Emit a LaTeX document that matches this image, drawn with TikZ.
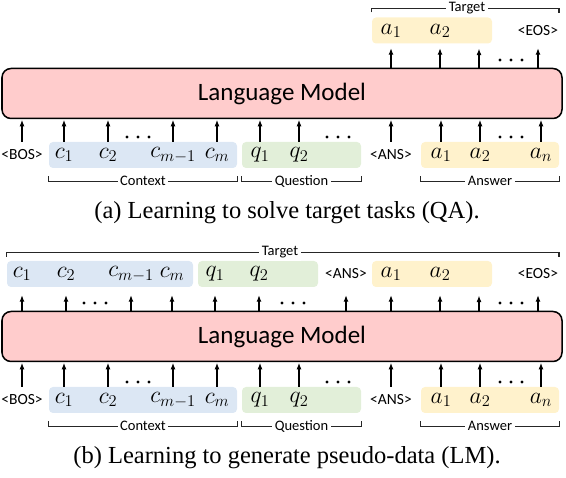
\documentclass[tikz,border=0pt]{standalone}
\usepackage{fix-cm}
\usepackage{fontspec}
\setmainfont{Liberation Serif}
\newfontfamily\calfont{Carlito}
\usetikzlibrary{arrows.meta,calc}
\definecolor{lmpink}{HTML}{FFCCCC}
\definecolor{ctxblue}{HTML}{DCE7F4}
\definecolor{qgreen}{HTML}{E2EFD9}
\definecolor{ansyellow}{HTML}{FFF2CC}

\begin{document}
\begin{tikzpicture}[
  x=1pt, y=-1pt,
  lm/.style={draw=black, line width=1.5pt, fill=lmpink, rounded corners=9pt,
    minimum width=560, minimum height=50, font=\calfont\fontsize{25}{25}\selectfont},
  seg/.style={rounded corners=4pt, minimum height=26, inner sep=0pt},
  tok/.style={inner sep=0pt, minimum height=26, font=\fontsize{23.5}{23.5}\selectfont},
  spec/.style={tok, font=\calfont\fontsize{15.5}{15.5}\selectfont},
  lbl/.style={fill=white, inner sep=2.5pt, font=\calfont\fontsize{14.5}{14.5}\selectfont},
  brk/.style={line width=1.2pt, black!85},
  flow/.style={-{Latex[length=6.5pt,width=5pt]}, line width=1.2pt, shorten >=0.6pt},
  captxt/.style={font=\fontsize{24.5}{24.5}\selectfont},
  ellip/.pic={\foreach \d in {-11,0,11} \fill (\d,0) circle[radius=1.7pt];},
  ]
  \useasboundingbox (0,0) rectangle (566,478);

  % (a) target tasks
  \node[lm] (lmA) at (282,93.5) {Language Model};

  \node[seg, fill=ctxblue, minimum width=188] (ctxA) at (143,155) {};
  \node[seg, fill=qgreen, minimum width=119] (qA) at (301.5,155) {};
  \node[seg, fill=ansyellow, minimum width=138] (ansA) at (490,155) {};

  \node[spec] (bosA) at (22,155) {<BOS>};
  \node[tok] (c1A) at (64,155) {$c_1$};
  \node[tok] (c2A) at (108,155) {$c_2$};
  \node[tok] (cmoA) at (173,155) {$c_{m-1}$};
  \node[tok] (cmA) at (217,155) {$c_m$};
  \node[tok] (q1A) at (260,155) {$q_1$};
  \node[tok] (q2A) at (299,155) {$q_2$};
  \node[spec] (sepA) at (391,155) {<ANS>};
  \node[tok] (a1A) at (441,155) {$a_1$};
  \node[tok] (a2A) at (480,155) {$a_2$};
  \node[tok] (anA) at (541,155) {$a_n$};
  \foreach \n in {bosA,c1A,c2A,cmoA,cmA,q1A,q2A,sepA,a1A,a2A,anA}
    \draw[flow] (\n.north) -- (\n.north |- lmA.south);
  \pic at (138,137) {ellip};
  \pic at (338,137) {ellip};
  \pic at (511,137) {ellip};

  % brackets under the input
  \draw[brk] ($(ctxA.south west)+(0,8)$) -- ++(0,5) -| ($(ctxA.south east)+(0,8)$);
  \node[lbl] (ctxlblA) at ($(ctxA.south)+(0,13)$) {Context};
  \draw[brk] ($(qA.south west)+(0,8)$) -- ++(0,5) -| ($(qA.south east)+(0,8)$);
  \node[lbl] (qlblA) at ($(qA.south)+(0,13)$) {Question};
  \draw[brk] ($(ansA.south west)+(0,8)$) -- ++(0,5) -| ($(ansA.south east)+(0,8)$);
  \node[lbl] (anslblA) at ($(ansA.south)+(0,13)$) {Answer};

  % output
  \node[seg, fill=ansyellow, minimum width=120] (tgtA) at (432,30.5) {};
  \node[tok] (o1A) at (391,31) {$a_1$};
  \node[tok] (o2A) at (440,31) {$a_2$};
  \coordinate (o3A) at (479,48);
  \node[spec] (eosA) at (538,31) {<EOS>};
  \foreach \n in {o1A,o2A,eosA}
    \draw[flow, shorten >=4pt] (\n.south |- lmA.north) -- (\n.south);
  \draw[flow] (o3A |- lmA.north) -- (o3A);
  \pic at (511,60) {ellip};
  \coordinate (tgtendA) at (559,13);
  \draw[brk] ($(tgtA.north west)+(0,-5)$) -- ++(0,-4) -| (tgtendA);
  \node[lbl] (tgtlblA) at (467,8.5) {Target};

  \node[captxt] (capA) at (287,213) {(a) Learning to solve target tasks (QA).};

  % (b) pseudo-data
  \node[lm] (lmB) at (282,336.5) {Language Model};

  \node[seg, fill=ctxblue, minimum width=188] (ctxB) at (143,400) {};
  \node[seg, fill=qgreen, minimum width=119] (qB) at (301.5,400) {};
  \node[seg, fill=ansyellow, minimum width=138] (ansB) at (490,400) {};

  \node[spec] (bosB) at (22,400) {<BOS>};
  \node[tok] (c1B) at (64,400) {$c_1$};
  \node[tok] (c2B) at (108,400) {$c_2$};
  \node[tok] (cmoB) at (173,400) {$c_{m-1}$};
  \node[tok] (cmB) at (217,400) {$c_m$};
  \node[tok] (q1B) at (260,400) {$q_1$};
  \node[tok] (q2B) at (299,400) {$q_2$};
  \node[spec] (sepB) at (391,400) {<ANS>};
  \node[tok] (a1B) at (441,400) {$a_1$};
  \node[tok] (a2B) at (480,400) {$a_2$};
  \node[tok] (anB) at (541,400) {$a_n$};
  \foreach \n in {bosB,c1B,c2B,cmoB,cmB,q1B,q2B,sepB,a1B,a2B,anB}
    \draw[flow] (\n.north) -- (\n.north |- lmB.south);
  \pic at (138,382) {ellip};
  \pic at (338,382) {ellip};
  \pic at (511,382) {ellip};

  \draw[brk] ($(ctxB.south west)+(0,8)$) -- ++(0,5) -| ($(ctxB.south east)+(0,8)$);
  \node[lbl] (ctxlblB) at ($(ctxB.south)+(0,13)$) {Context};
  \draw[brk] ($(qB.south west)+(0,8)$) -- ++(0,5) -| ($(qB.south east)+(0,8)$);
  \node[lbl] (qlblB) at ($(qB.south)+(0,13)$) {Question};
  \draw[brk] ($(ansB.south west)+(0,8)$) -- ++(0,5) -| ($(ansB.south east)+(0,8)$);
  \node[lbl] (anslblB) at ($(ansB.south)+(0,13)$) {Answer};

  % output: the whole sequence shifted by one
  \node[seg, fill=ctxblue, minimum width=186] (tctxB) at (100,274) {};
  \node[seg, fill=qgreen, minimum width=120] (tqB) at (258,274) {};
  \node[seg, fill=ansyellow, minimum width=120] (tansB) at (432,274) {};
  \node[tok] (o1B) at (22,274) {$c_1$};
  \node[tok] (o2B) at (66,274) {$c_2$};
  \node[tok] (o3B) at (131,274) {$c_{m-1}$};
  \node[tok] (o4B) at (172,274) {$c_m$};
  \node[tok] (o5B) at (215,274) {$q_1$};
  \node[tok] (o6B) at (259,274) {$q_2$};
  \node[spec] (o7B) at (346,274) {<ANS>};
  \node[tok] (o8B) at (391,274) {$a_1$};
  \node[tok] (o9B) at (440,274) {$a_2$};
  \coordinate (o10B) at (479,295);
  \node[spec] (eosB) at (538,274) {<EOS>};
  \foreach \n in {o1B,o2B,o3B,o4B,o5B,o6B,o7B,o8B,o9B,eosB}
    \draw[flow, shorten >=8pt] (\n.south |- lmB.north) -- (\n.south);
  \draw[flow] (o10B |- lmB.north) -- (o10B);
  \pic at (95,303) {ellip};
  \pic at (293,303) {ellip};
  \pic at (511,303) {ellip};
  \coordinate (tgtendB) at (559,257);
  \draw[brk] ($(tctxB.north west)+(0,-4)$) -- ++(0,-4) -| (tgtendB);
  \node[lbl] (tgtlblB) at (280,252.5) {Target};

  \node[captxt] (capB) at (287,458) {(b) Learning to generate pseudo-data (LM).};
\end{tikzpicture}
\end{document}
